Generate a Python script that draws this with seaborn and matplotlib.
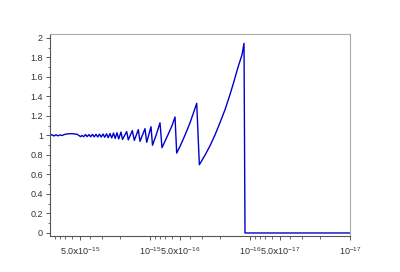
import matplotlib
matplotlib.use("Agg")
import matplotlib.pyplot as plt
import matplotlib.ticker as mticker
import numpy as np
import pandas as pd
import seaborn as sns

# x values in units of 1e-16, y values
x_e16 = [100.0, 95.50, 91.20, 87.10, 83.18, 79.43, 75.86, 70.79, 64.57, 58.88,
         53.70, 51.29, 49.55, 47.86, 46.03, 44.16, 42.46, 40.74, 39.17, 37.58,
         36.14, 34.67, 33.34, 31.99, 30.76, 29.51, 28.38, 27.23, 26.18, 25.12,
         24.15, 23.17, 22.28, 21.38, 20.56, 19.50, 18.84, 17.10, 16.48, 15.03,
         14.35, 13.09, 12.59, 11.22, 10.79, 9.77, 9.44, 8.71, 7.94, 7.59,
         7.08, 6.53, 6.03, 5.62, 5.41, 5.01, 4.68, 4.315, 3.98, 3.715,
         3.41, 3.21, 2.818, 2.51, 2.239, 2.00, 1.778, 1.585, 1.445, 1.318,
         1.202, 1.148, 1.122, 0.1]
y_vals = [1.000, 1.008, 0.995, 1.008, 0.996, 1.006, 1.000, 1.012, 1.018, 1.018,
          1.012, 1.000, 0.988, 1.000, 0.988, 1.010, 0.988, 1.010, 0.987, 1.012,
          0.986, 1.012, 0.985, 1.013, 0.984, 1.015, 0.982, 1.017, 0.978, 1.020,
          0.975, 1.025, 0.970, 1.028, 0.965, 1.035, 0.960, 1.040, 0.955, 1.050,
          0.950, 1.060, 0.940, 1.070, 0.930, 1.090, 0.900, 1.000, 1.130, 0.875,
          0.940, 1.020, 1.100, 1.190, 0.820, 0.888, 0.956, 1.040, 1.130, 1.218,
          1.330, 0.700, 0.798, 0.895, 1.005, 1.130, 1.264, 1.420, 1.556, 1.700,
          1.828, 1.945, 0.000, 0.000]

x_major = [5e-15, 1e-15, 5e-16, 1e-16, 5e-17, 1e-17]
x_labels = [r"$5.0\mathrm{x}10^{-15}$", r"$10^{-15}$", r"$5.0\mathrm{x}10^{-16}$",
            r"$10^{-16}$", r"$5.0\mathrm{x}10^{-17}$", r"$10^{-17}$"]
y_major = [0, 0.2, 0.4, 0.6, 0.8, 1, 1.2, 1.4, 1.6, 1.8, 2]
y_labels = ["0", "0.2", "0.4", "0.6", "0.8", "1", "1.2", "1.4", "1.6", "1.8", "2"]

df = pd.DataFrame({"x": np.array(x_e16) * 1e-16, "y": y_vals})

sns.set_style("white")
plt.rcParams["font.family"] = ["Liberation Sans", "DejaVu Sans"]
plt.rcParams["mathtext.default"] = "regular"

fig = plt.figure(figsize=(4.0, 2.72), dpi=100)
ax = fig.add_axes([50 / 400, 1 - 236 / 272, 300 / 400, 202 / 272])

sns.lineplot(data=df, x="x", y="y", ax=ax, color="#0000cc", linewidth=1.0,
             estimator=None, sort=True)

ax.set_xscale("log")
ax.set_xlim(1e-14, 1e-17)
ax.set_ylim(-0.031, 2.041)

ax.set_xticks(x_major)
ax.set_xticklabels(x_labels)
ax.xaxis.set_minor_locator(mticker.LogLocator(base=10, subs=[2, 3, 4, 6, 7, 8, 9]))
ax.xaxis.set_minor_formatter(mticker.NullFormatter())
ax.set_yticks(y_major)
ax.set_yticklabels(y_labels)
ax.yaxis.set_minor_locator(mticker.MultipleLocator(0.1))

ax.set_xlabel("")
ax.set_ylabel("")

ax.tick_params(axis="both", which="major", direction="out", length=3, width=0.7,
               color="#555555", labelsize=6.5, labelcolor="#333333", pad=2)
ax.tick_params(axis="both", which="minor", direction="out", length=1.8, width=0.6,
               color="#555555")
ax.tick_params(axis="x", which="major", pad=4)
ax.tick_params(bottom=True, left=True, which="both")

for side in ["left", "bottom"]:
    ax.spines[side].set_color("#555555")
    ax.spines[side].set_linewidth(0.8)
for side in ["top", "right"]:
    ax.spines[side].set_color("#aaaaaa")
    ax.spines[side].set_linewidth(0.8)

fig.savefig("out.png", dpi=100, facecolor="white")
